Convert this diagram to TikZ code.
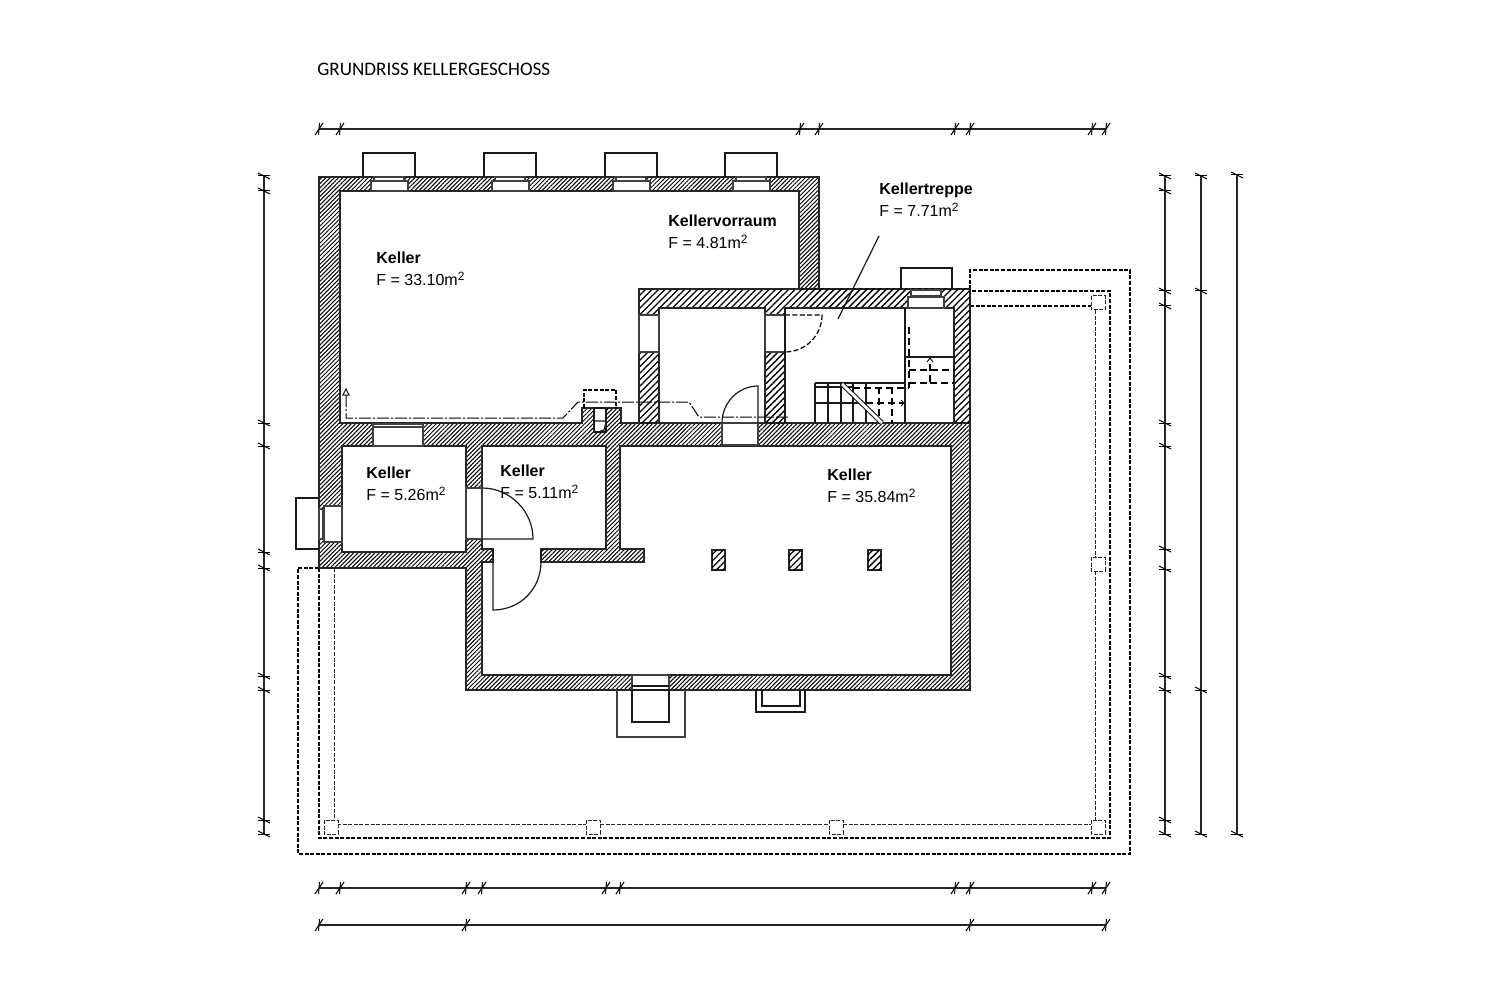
\documentclass[tikz,border=0pt]{standalone}
\usepackage{fontspec}
\setmainfont{Liberation Sans}
\newfontfamily\titlefont{Carlito}
\usetikzlibrary{patterns.meta,arrows.meta}
\tikzset{>=latex}
\tikzset{
  wall/.style={draw=black!85,line width=.6pt,pattern={Lines[angle=45,distance=1.5pt,line width=.5pt]}},
  widewall/.style={draw=black!85,line width=.6pt,fill=white,postaction={pattern={Lines[angle=45,distance=2.3pt,line width=.65pt]}}},
  room/.style={draw=black!85,line width=.6pt,fill=white},
  opening/.style={draw=black!75,line width=.55pt,fill=white},
  plan/.style={draw=black!90,line width=.6pt},
  hidden/.style={draw=black,line width=.6pt,dash pattern=on 2pt off .8pt},
  hiddenthin/.style={draw=black!85,line width=.5pt,dash pattern=on 2pt off .8pt},
  stairhidden/.style={draw=black,line width=.65pt,dash pattern=on 3.5pt off 2pt},
  section/.style={draw=black,line width=.5pt,dash pattern=on 6pt off 1pt on 1pt off 1pt},
  dimline/.style={draw=black!85,line width=.65pt},
  dimtick/.style={draw=black,line width=.5pt},
  roomlabel/.style={anchor=west,align=left,inner sep=0pt,font=\fontsize{8}{11}\selectfont},
}
\newcommand{\hticks}[2]{\foreach \x in {#2} {
    \draw[dimtick] (\x-4,#1+6) -- (\x+4,#1-6);
    \draw[dimtick] (\x-.5,#1+6) -- (\x+.5,#1-6);}}
\newcommand{\vticks}[2]{\foreach \y in {#2} {
    \draw[dimtick] (#1-6,\y-3) -- (#1+6,\y+3);
    \draw[dimtick] (#1-6,\y) -- (#1+6,\y);}}
\begin{document}
\begin{tikzpicture}[x=.5pt,y=-.5pt]
  \useasboundingbox (0,0) rectangle (1500,1000);
  \node[anchor=west,inner sep=0pt,font=\titlefont\fontsize{9.55}{11}\selectfont] (title) at (317,69) {GRUNDRISS KELLERGESCHOSS};

  % outside, hidden lines
  \draw[hidden] (319,568) -- (298,568) -- (298,854) -- (1130,854) -- (1130,270) -- (970,270) -- (970,290);
  \draw[hidden] (319,568) -- (319,838) -- (1110,838) -- (1110,291) -- (970,291);
  \draw[hiddenthin] (334,568) -- (334,820);
  \draw[hiddenthin] (337,824) -- (586,824) (600,824) -- (829,824) (843,824) -- (1091,824);
  \draw[hiddenthin] (1095,310) -- (1095,557) (1095,571) -- (1095,820);
  \draw[hidden] (970,306) -- (1091,306);
  \foreach \px/\py in {331/827,593/827,836/827,1098/827,1098/564,1098/303}
    \draw[hiddenthin,fill=white] (\px-7,\py-7) rectangle (\px+7,\py+7);

  % walls
  \draw[wall] (319,177) -- (819,177) -- (819,290) -- (970,290) -- (970,690) -- (466,690) -- (466,568) -- (319,568) -- cycle;
  \draw[widewall] (639,289) -- (970,289) -- (970,423) -- (639,423) -- cycle;

  % rooms
  \draw[room] (340,191) -- (799,191) -- (799,289) -- (639,289) -- (639,423) -- (621,423) -- (621,408) -- (582,408) -- (582,423) -- (340,423) -- cycle;
  \draw[room] (659,308) rectangle (765,423);
  \draw[room] (785,308) rectangle (954,423);
  \draw[room] (342,446) rectangle (466,552);
  \draw[room] (620,446) -- (951,446) -- (951,675) -- (482,675) -- (482,562) -- (493,562) -- (493,549) -- (482,549) -- (482,446) -- (606,446) -- (606,549) -- (541,549) -- (541,562) -- (644,562) -- (644,549) -- (620,549) -- cycle;

  % pillars
  \foreach \px in {712,789,868}
    \draw[widewall] (\px,550) rectangle (\px+13,570);

  % windows, north side
  \foreach \px in {363,484,605,725} {
    \draw[plan] (\px,177) -- (\px,153) -- (\px+52,153) -- (\px+52,177);
    \draw[opening] (\px+11,177) rectangle (\px+41,181);
    \draw[opening] (\px+8,181) rectangle (\px+45,191);
  }
  \draw[plan] (901,289) -- (901,268) -- (952,268) -- (952,289);
  \draw[opening] (911,290) rectangle (941,296);
  \draw[opening] (908,297) rectangle (944,308);
  \draw[opening] (639,315) rectangle (659,352);
  \draw[opening] (765,315) rectangle (785,352);

  % windows, west and south side
  \draw[plan] (319,498) -- (296,498) -- (296,549) -- (319,549);
  \draw[opening] (319,509) rectangle (323,539);
  \draw[opening] (324,506) rectangle (342,542);
  \draw[opening] (373,424) rectangle (423,446);
  \draw[opening] (373,427) -- (423,427);
  \draw[opening] (632,675) rectangle (669,690);
  \draw[plan] (632,686) -- (669,686);
  \draw[plan,fill=white] (632,690) rectangle (669,722);
  \draw[plan,draw=black!75] (617,690) -- (617,737) -- (685,737) -- (685,690);
  \draw[plan] (756,690) -- (756,712) -- (805,712) -- (805,690);
  \draw[plan] (762,690) -- (762,706) -- (800,706) -- (800,690);

  % chimney
  \draw[plan,fill=white] (594,408) rectangle (606,432);
  \draw[plan] (594,421) -- (606,421) (598,432) -- (604,430) -- (606,422);
  \draw[hidden] (584,408) -- (584,390) -- (616,390) -- (616,408);

  % doors
  \draw[opening] (722,423) rectangle (758,445);
  \draw[plan] (758,423) -- (758,386) .. controls (738,386) and (722,403) .. (722,423);
  \draw[opening] (466,488) rectangle (482,539);
  \draw[plan] (482,488) .. controls (510,488) and (533,511) .. (533,539) -- (482,539);
  \draw[plan] (493,549) -- (493,610) .. controls (520,610) and (541,589) .. (541,562) -- (541,549);
  \draw[stairhidden,line width=.6pt,dash pattern=on 2.5pt off 1.2pt] (785,315) -- (822,315) .. controls (822,335) and (806,352) .. (785,352);
  \draw[plan] (785,308) -- (785,423);

  % stairs
  \foreach \px in {815,828,841,853,866}
    \draw[plan] (\px,383) -- (\px,423);
  \foreach \px in {879,892}
    \draw[stairhidden] (\px,387) -- (\px,423);
  \draw[plan] (815,383) -- (905,383);
  \draw[plan] (815,387) -- (853,387);
  \draw[stairhidden] (853,388) -- (909,388);
  \draw[plan] (815,403) -- (866,403);
  \draw[stairhidden] (866,403) -- (903,403);
  \draw[plan,line width=.5pt] (901,400) -- (904,403) -- (901,406);
  \draw[plan,double=white,line width=.55pt,double distance=1.4pt] (842,384) -- (882,423);
  \draw[plan] (905,308) -- (905,423);
  \draw[plan] (905,357) -- (954,357);
  \draw[stairhidden] (909,327) -- (909,388);
  \draw[stairhidden] (909,370) -- (954,370) (909,383) -- (930,383) -- (930,361) (930,383) -- (954,383);
  \draw[plan,line width=.5pt] (927,362) -- (930,358) -- (933,362);

  % section line
  \draw[section] (346,395) -- (346,418) -- (563,418) -- (578,402) -- (689,402) -- (699,417) -- (788,417);
  \draw[plan,line width=.5pt,fill=white] (343,395) -- (346,389) -- (349,395) -- cycle;

  % leader of the stair label
  \draw[plan,line width=.6pt] (879,236) -- (838,319);

  % room labels
  \node[roomlabel] (cellarnorth) at (376,269) {\textbf{Keller}\\F = 33.10m\textsuperscript{2}};
  \node[roomlabel] (anteroom) at (668,232) {\textbf{Kellervorraum}\\F = 4.81m\textsuperscript{2}};
  \node[roomlabel] (stairroom) at (879,200) {\textbf{Kellertreppe}\\F = 7.71m\textsuperscript{2}};
  \node[roomlabel] (cellarwest) at (366,484) {\textbf{Keller}\\F = 5.26m\textsuperscript{2}};
  \node[roomlabel] (cellarmid) at (500,482) {\textbf{Keller}\\F = 5.11m\textsuperscript{2}};
  \node[roomlabel] (cellarsouth) at (827,486) {\textbf{Keller}\\F = 35.84m\textsuperscript{2}};

  % dimension chains
  \draw[dimline] (319,129) -- (1106,129);
  \hticks{129}{319,340,800,819,955,970,1092,1106}
  \draw[dimline] (319,888) -- (1106,888);
  \hticks{888}{319,340,466,482,606,620,955,970,1092,1106}
  \draw[dimline,line width=.9pt] (319,925) -- (1106,925);
  \hticks{925}{319,466,970,1106}
  \draw[dimline,line width=.8pt] (264,176) -- (264,834);
  \vticks{264}{176,191,423,446,552,568,676,690,820,834}
  \draw[dimline,line width=.8pt] (1165,176) -- (1165,834);
  \vticks{1165}{176,191,291,306,423,446,549,569,676,690,820,834}
  \draw[dimline,line width=.8pt] (1201,176) -- (1201,834);
  \vticks{1201}{176,291,690,834}
  \draw[dimline,line width=.8pt] (1237,175) -- (1237,834);
  \vticks{1237}{175,834}
\end{tikzpicture}
\end{document}
